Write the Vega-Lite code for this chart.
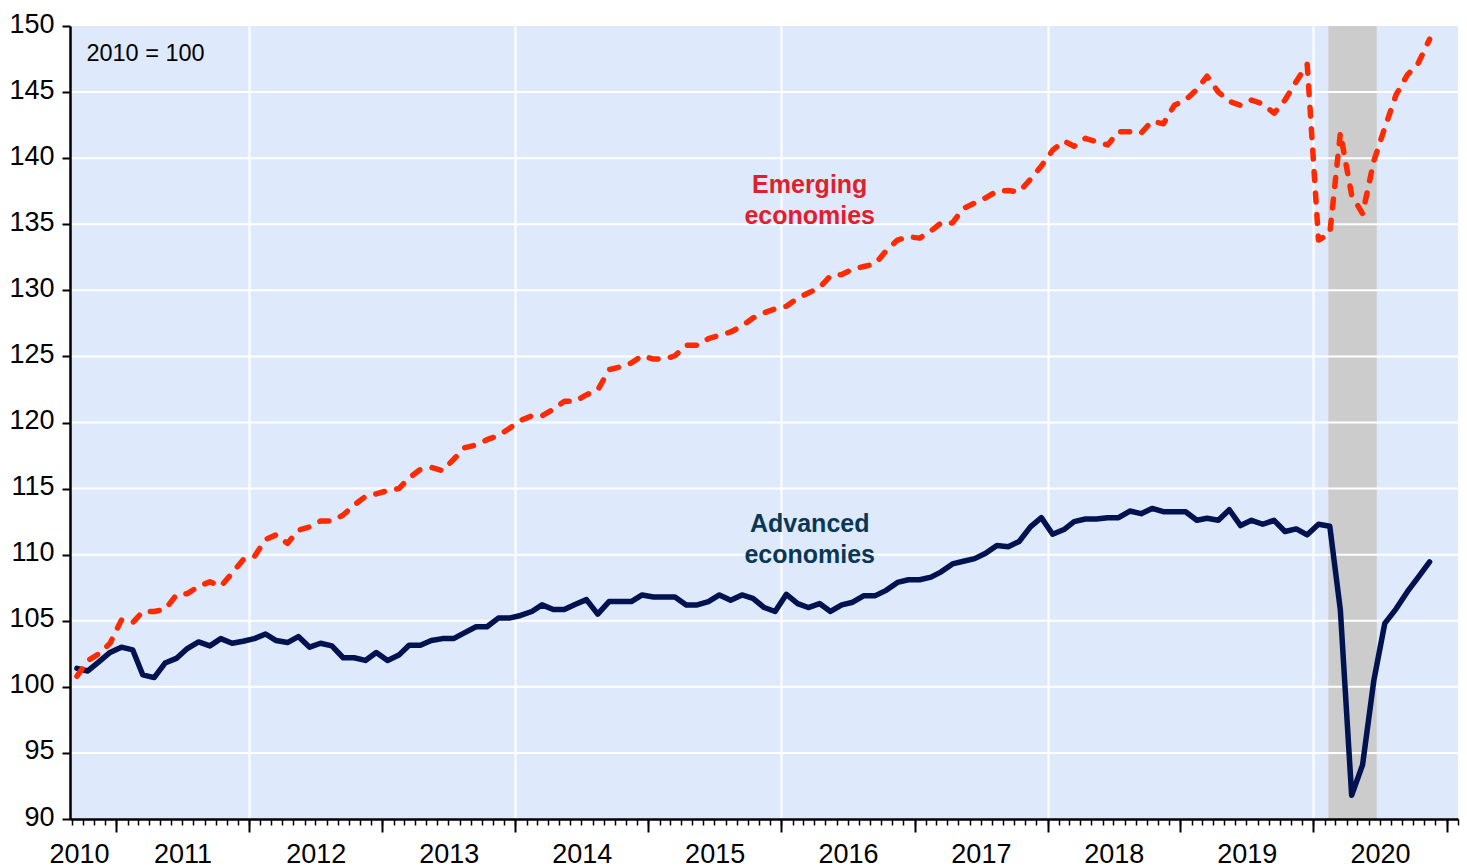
{
  "$schema": "https://vega.github.io/schema/vega-lite/v6.json",
  "width": 1388,
  "height": 793,
  "autosize": {"type": "none"},
  "padding": {"left": 70, "top": 26, "right": 9, "bottom": 48},
  "background": "white",
  "config": {
    "view": {"fill": "#deeafb", "stroke": null},
    "font": "Liberation Sans"
  },
  "datasets": {
    "main": [
      {"date": "2010-09-15", "advanced": 101.4, "emerging": 100.8},
      {"date": "2010-10-15", "advanced": 101.2, "emerging": 102.0},
      {"date": "2010-11-15", "advanced": 101.9, "emerging": 102.5},
      {"date": "2010-12-15", "advanced": 102.6, "emerging": 103.3},
      {"date": "2011-01-15", "advanced": 103.0, "emerging": 105.05},
      {"date": "2011-02-15", "advanced": 102.8, "emerging": 104.85},
      {"date": "2011-03-15", "advanced": 100.9, "emerging": 105.7},
      {"date": "2011-04-15", "advanced": 100.7, "emerging": 105.7},
      {"date": "2011-05-15", "advanced": 101.8, "emerging": 105.85},
      {"date": "2011-06-15", "advanced": 102.15, "emerging": 106.95},
      {"date": "2011-07-15", "advanced": 102.9, "emerging": 107.05},
      {"date": "2011-08-15", "advanced": 103.4, "emerging": 107.6},
      {"date": "2011-09-15", "advanced": 103.1, "emerging": 107.95},
      {"date": "2011-10-15", "advanced": 103.65, "emerging": 107.6},
      {"date": "2011-11-15", "advanced": 103.3, "emerging": 108.6},
      {"date": "2011-12-15", "advanced": 103.45, "emerging": 109.6},
      {"date": "2012-01-15", "advanced": 103.65, "emerging": 109.85},
      {"date": "2012-02-15", "advanced": 104.0, "emerging": 111.15},
      {"date": "2012-03-15", "advanced": 103.5, "emerging": 111.5},
      {"date": "2012-04-15", "advanced": 103.35, "emerging": 110.85},
      {"date": "2012-05-15", "advanced": 103.8, "emerging": 111.85},
      {"date": "2012-06-15", "advanced": 103.0, "emerging": 112.1},
      {"date": "2012-07-15", "advanced": 103.3, "emerging": 112.55},
      {"date": "2012-08-15", "advanced": 103.1, "emerging": 112.55},
      {"date": "2012-09-15", "advanced": 102.2, "emerging": 113.0},
      {"date": "2012-10-15", "advanced": 102.2, "emerging": 113.75},
      {"date": "2012-11-15", "advanced": 102.0, "emerging": 114.4},
      {"date": "2012-12-15", "advanced": 102.6, "emerging": 114.6},
      {"date": "2013-01-15", "advanced": 102.0, "emerging": 114.85},
      {"date": "2013-02-15", "advanced": 102.4, "emerging": 115.0},
      {"date": "2013-03-15", "advanced": 103.15, "emerging": 115.8},
      {"date": "2013-04-15", "advanced": 103.15, "emerging": 116.45},
      {"date": "2013-05-15", "advanced": 103.5, "emerging": 116.6},
      {"date": "2013-06-15", "advanced": 103.65, "emerging": 116.35},
      {"date": "2013-07-15", "advanced": 103.65, "emerging": 117.2},
      {"date": "2013-08-15", "advanced": 104.1, "emerging": 118.1},
      {"date": "2013-09-15", "advanced": 104.55, "emerging": 118.3},
      {"date": "2013-10-15", "advanced": 104.55, "emerging": 118.7},
      {"date": "2013-11-15", "advanced": 105.2, "emerging": 119.0},
      {"date": "2013-12-15", "advanced": 105.2, "emerging": 119.55},
      {"date": "2014-01-15", "advanced": 105.4, "emerging": 120.15},
      {"date": "2014-02-15", "advanced": 105.7, "emerging": 120.5},
      {"date": "2014-03-15", "advanced": 106.2, "emerging": 120.5},
      {"date": "2014-04-15", "advanced": 105.85, "emerging": 121.0},
      {"date": "2014-05-15", "advanced": 105.85, "emerging": 121.6},
      {"date": "2014-06-15", "advanced": 106.25, "emerging": 121.6},
      {"date": "2014-07-15", "advanced": 106.6, "emerging": 122.1},
      {"date": "2014-08-15", "advanced": 105.5, "emerging": 122.45},
      {"date": "2014-09-15", "advanced": 106.45, "emerging": 124.0},
      {"date": "2014-10-15", "advanced": 106.45, "emerging": 124.2},
      {"date": "2014-11-15", "advanced": 106.45, "emerging": 124.5},
      {"date": "2014-12-15", "advanced": 106.95, "emerging": 125.05},
      {"date": "2015-01-15", "advanced": 106.8, "emerging": 124.8},
      {"date": "2015-02-15", "advanced": 106.8, "emerging": 124.8},
      {"date": "2015-03-15", "advanced": 106.8, "emerging": 125.05},
      {"date": "2015-04-15", "advanced": 106.2, "emerging": 125.85},
      {"date": "2015-05-15", "advanced": 106.2, "emerging": 125.85},
      {"date": "2015-06-15", "advanced": 106.45, "emerging": 126.35},
      {"date": "2015-07-15", "advanced": 106.95, "emerging": 126.6},
      {"date": "2015-08-15", "advanced": 106.55, "emerging": 126.85},
      {"date": "2015-09-15", "advanced": 106.95, "emerging": 127.3},
      {"date": "2015-10-15", "advanced": 106.7, "emerging": 127.9},
      {"date": "2015-11-15", "advanced": 106.0, "emerging": 128.3},
      {"date": "2015-12-15", "advanced": 105.7, "emerging": 128.6},
      {"date": "2016-01-15", "advanced": 107.0, "emerging": 128.8},
      {"date": "2016-02-15", "advanced": 106.3, "emerging": 129.4},
      {"date": "2016-03-15", "advanced": 106.0, "emerging": 129.8},
      {"date": "2016-04-15", "advanced": 106.3, "emerging": 130.2},
      {"date": "2016-05-15", "advanced": 105.7, "emerging": 131.1},
      {"date": "2016-06-15", "advanced": 106.2, "emerging": 131.2},
      {"date": "2016-07-15", "advanced": 106.4, "emerging": 131.6},
      {"date": "2016-08-15", "advanced": 106.9, "emerging": 131.8},
      {"date": "2016-09-15", "advanced": 106.9, "emerging": 132.0},
      {"date": "2016-10-15", "advanced": 107.3, "emerging": 133.0},
      {"date": "2016-11-15", "advanced": 107.9, "emerging": 133.8},
      {"date": "2016-12-15", "advanced": 108.1, "emerging": 134.05},
      {"date": "2017-01-15", "advanced": 108.1, "emerging": 133.95},
      {"date": "2017-02-15", "advanced": 108.3, "emerging": 134.5},
      {"date": "2017-03-15", "advanced": 108.7, "emerging": 135.1},
      {"date": "2017-04-15", "advanced": 109.3, "emerging": 135.1},
      {"date": "2017-05-15", "advanced": 109.5, "emerging": 136.2},
      {"date": "2017-06-15", "advanced": 109.7, "emerging": 136.6},
      {"date": "2017-07-15", "advanced": 110.1, "emerging": 137.0},
      {"date": "2017-08-15", "advanced": 110.7, "emerging": 137.5},
      {"date": "2017-09-15", "advanced": 110.6, "emerging": 137.55},
      {"date": "2017-10-15", "advanced": 111.0, "emerging": 137.45},
      {"date": "2017-11-15", "advanced": 112.1, "emerging": 138.4},
      {"date": "2017-12-15", "advanced": 112.8, "emerging": 139.4},
      {"date": "2018-01-15", "advanced": 111.55, "emerging": 140.6},
      {"date": "2018-02-15", "advanced": 111.9, "emerging": 141.3},
      {"date": "2018-03-15", "advanced": 112.5, "emerging": 140.9},
      {"date": "2018-04-15", "advanced": 112.7, "emerging": 141.5},
      {"date": "2018-05-15", "advanced": 112.7, "emerging": 141.25},
      {"date": "2018-06-15", "advanced": 112.8, "emerging": 141.0},
      {"date": "2018-07-15", "advanced": 112.8, "emerging": 142.0},
      {"date": "2018-08-15", "advanced": 113.3, "emerging": 142.0},
      {"date": "2018-09-15", "advanced": 113.1, "emerging": 141.9},
      {"date": "2018-10-15", "advanced": 113.5, "emerging": 142.8},
      {"date": "2018-11-15", "advanced": 113.25, "emerging": 142.6},
      {"date": "2018-12-15", "advanced": 113.25, "emerging": 144.0},
      {"date": "2019-01-15", "advanced": 113.25, "emerging": 144.4},
      {"date": "2019-02-15", "advanced": 112.6, "emerging": 145.2},
      {"date": "2019-03-15", "advanced": 112.75, "emerging": 146.2},
      {"date": "2019-04-15", "advanced": 112.6, "emerging": 145.0},
      {"date": "2019-05-15", "advanced": 113.4, "emerging": 144.3},
      {"date": "2019-06-15", "advanced": 112.2, "emerging": 144.0},
      {"date": "2019-07-15", "advanced": 112.6, "emerging": 144.4},
      {"date": "2019-08-15", "advanced": 112.3, "emerging": 144.1},
      {"date": "2019-09-15", "advanced": 112.6, "emerging": 143.4},
      {"date": "2019-10-15", "advanced": 111.75, "emerging": 144.4},
      {"date": "2019-11-15", "advanced": 111.95, "emerging": 145.8},
      {"date": "2019-12-15", "advanced": 111.5, "emerging": 147.1},
      {"date": "2020-01-15", "advanced": 112.3, "emerging": 133.8},
      {"date": "2020-02-15", "advanced": 112.15, "emerging": 134.3},
      {"date": "2020-03-15", "advanced": 105.8, "emerging": 141.9},
      {"date": "2020-04-15", "advanced": 91.8, "emerging": 137.2},
      {"date": "2020-05-15", "advanced": 94.1, "emerging": 135.8},
      {"date": "2020-06-15", "advanced": 100.5, "emerging": 139.8},
      {"date": "2020-07-15", "advanced": 104.8, "emerging": 142.3},
      {"date": "2020-08-15", "advanced": 105.9, "emerging": 144.8},
      {"date": "2020-09-15", "advanced": 107.2, "emerging": 146.3},
      {"date": "2020-10-15", "advanced": 108.3, "emerging": 147.2},
      {"date": "2020-11-15", "advanced": 109.45, "emerging": 149.0}
    ],
    "shade": [{"start": "2020-02-11", "end": "2020-06-23"}],
    "grid": [{"g": 95}, {"g": 100}, {"g": 105}, {"g": 110}, {"g": 115}, {"g": 120}, {"g": 125}, {"g": 130}, {"g": 135}, {"g": 140}, {"g": 145}],
    "labels": [
      {"series": "Emerging economies", "label": "Emerging\neconomies", "date": "2016-03-19", "value": 137.35},
      {"series": "Advanced economies", "label": "Advanced\neconomies", "date": "2016-03-19", "value": 111.69}
    ],
    "note": [{"label": "2010 = 100", "date": "2010-10-11", "value": 147.37}]
  },
  "layer": [
    {
      "data": {"name": "shade"},
      "mark": {"type": "rect", "color": "#cccccc"},
      "encoding": {
        "x": {
          "field": "start", "type": "temporal",
          "scale": {"type": "utc", "nice": false, "domain": [{"year": 2010, "month": 8, "date": 27, "utc": true}, {"year": 2021, "month": 2, "date": 1, "utc": true}]},
          "axis": {
            "orient": "bottom", "title": null, "labels": false, "ticks": false, "domain": false,
            "grid": true, "gridColor": "#ffffff", "gridWidth": 2, "gridOpacity": 1, "zindex": 0,
            "values": [
              {"year": 2012, "month": 1, "date": 1, "utc": true},
              {"year": 2014, "month": 1, "date": 1, "utc": true},
              {"year": 2016, "month": 1, "date": 1, "utc": true},
              {"year": 2018, "month": 1, "date": 1, "utc": true},
              {"year": 2020, "month": 1, "date": 1, "utc": true}
            ]
          }
        },
        "x2": {"field": "end"}
      }
    },
    {
      "data": {"name": "grid"},
      "mark": {"type": "rule", "color": "#ffffff", "strokeWidth": 2},
      "encoding": {
        "y": {"field": "g", "type": "quantitative", "scale": {"domain": [90, 150], "nice": false, "zero": false}, "axis": null}
      }
    },
    {
      "data": {"name": "main"},
      "mark": {"type": "line", "color": "#00124f", "strokeWidth": 5.5, "strokeJoin": "round", "strokeCap": "round"},
      "encoding": {
        "x": {
          "field": "date", "type": "temporal",
          "axis": {
            "orient": "bottom", "title": null, "labels": false, "grid": false, "zindex": 1,
            "tickCount": {"interval": "month", "step": 1},
            "ticks": true, "tickSize": 6, "tickWidth": 1.5, "tickColor": "#000000",
            "domain": true, "domainColor": "#000000", "domainWidth": 2.5
          }
        },
        "y": {
          "field": "advanced", "type": "quantitative",
          "scale": {"domain": [90, 150], "nice": false, "zero": false},
          "axis": {
            "orient": "left", "title": null, "grid": false, "zindex": 1,
            "values": [90, 95, 100, 105, 110, 115, 120, 125, 130, 135, 140, 145, 150],
            "ticks": true, "tickSize": 8, "tickWidth": 2, "tickColor": "#000000",
            "domain": true, "domainColor": "#000000", "domainWidth": 2.5,
            "labelFont": "Liberation Sans", "labelFontSize": 27, "labelColor": "#000000",
            "labelPadding": 8, "labelOffset": -2, "labelOverlap": false
          }
        }
      }
    },
    {
      "data": {"name": "main"},
      "mark": {"type": "line", "color": "#ff2a00", "strokeWidth": 5.5, "strokeDash": [9, 12.5], "strokeCap": "round", "strokeJoin": "round"},
      "encoding": {
        "x": {
          "field": "date", "type": "temporal",
          "axis": {
            "orient": "bottom", "title": null, "labels": false, "grid": false, "domain": false, "zindex": 1,
            "ticks": true, "tickSize": 13, "tickWidth": 2, "tickColor": "#000000",
            "values": [
              {"year": 2011, "month": 1, "date": 1, "utc": true},
              {"year": 2012, "month": 1, "date": 1, "utc": true},
              {"year": 2013, "month": 1, "date": 1, "utc": true},
              {"year": 2014, "month": 1, "date": 1, "utc": true},
              {"year": 2015, "month": 1, "date": 1, "utc": true},
              {"year": 2016, "month": 1, "date": 1, "utc": true},
              {"year": 2017, "month": 1, "date": 1, "utc": true},
              {"year": 2018, "month": 1, "date": 1, "utc": true},
              {"year": 2019, "month": 1, "date": 1, "utc": true},
              {"year": 2020, "month": 1, "date": 1, "utc": true},
              {"year": 2021, "month": 1, "date": 1, "utc": true}
            ]
          }
        },
        "y": {"field": "emerging", "type": "quantitative", "axis": null}
      }
    },
    {
      "data": {"name": "labels"},
      "mark": {"type": "text", "font": "Liberation Sans", "fontSize": 25, "fontWeight": "bold", "align": "center", "baseline": "alphabetic", "lineBreak": "\n", "lineHeight": 31},
      "encoding": {
        "x": {
          "field": "date", "type": "temporal",
          "axis": {
            "orient": "bottom", "title": null, "grid": false, "domain": false, "ticks": false, "tickSize": 0, "zindex": 1,
            "labels": true, "labelFont": "Liberation Sans", "labelFontSize": 27, "labelColor": "#000000",
            "labelPadding": 22, "labelFlush": false, "labelOverlap": false, "labelBound": false,
            "labelExpr": "utcFormat(datum.value, '%Y')",
            "values": [
              {"year": 2010, "month": 9, "date": 21, "utc": true},
              {"year": 2011, "month": 7, "date": 2, "utc": true},
              {"year": 2012, "month": 7, "date": 2, "utc": true},
              {"year": 2013, "month": 7, "date": 2, "utc": true},
              {"year": 2014, "month": 7, "date": 2, "utc": true},
              {"year": 2015, "month": 7, "date": 2, "utc": true},
              {"year": 2016, "month": 7, "date": 2, "utc": true},
              {"year": 2017, "month": 7, "date": 2, "utc": true},
              {"year": 2018, "month": 7, "date": 2, "utc": true},
              {"year": 2019, "month": 7, "date": 2, "utc": true},
              {"year": 2020, "month": 7, "date": 2, "utc": true}
            ]
          }
        },
        "y": {"field": "value", "type": "quantitative", "axis": null},
        "text": {"field": "label"},
        "color": {
          "field": "series", "type": "nominal", "legend": null,
          "scale": {"domain": ["Emerging economies", "Advanced economies"], "range": ["#e21e2d", "#0a3755"]}
        }
      }
    },
    {
      "data": {"name": "note"},
      "mark": {"type": "text", "font": "Liberation Sans", "fontSize": 23.5, "align": "left", "baseline": "alphabetic", "color": "#000000"},
      "encoding": {
        "x": {"field": "date", "type": "temporal", "axis": null},
        "y": {"field": "value", "type": "quantitative", "axis": null},
        "text": {"field": "label"}
      }
    }
  ],
  "resolve": {"axis": {"x": "independent", "y": "independent"}}
}
